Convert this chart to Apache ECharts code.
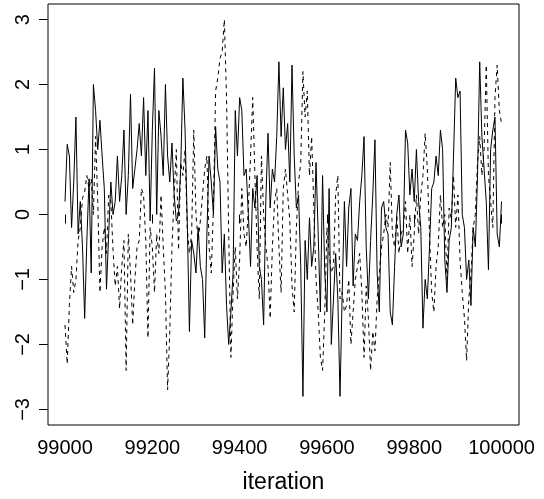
<!DOCTYPE html>
<html><head><meta charset="utf-8">
<script src="https://cdn.jsdelivr.net/npm/echarts@6/dist/echarts.min.js"></script>
<style>html,body{margin:0;padding:0;background:#fff}#c{width:544px;height:499px}</style>
</head><body><div id="c"></div>
<script>
const firstIteration = 99000;
const iterationStep = 5;
const chain1 = [
  0.2, 1.08, 0.9, -0.2, 0.5, 1.5, -0.3, 0.2, -0.5, -1.6, -0.4, 0.55, -0.9, 2.0, 1.6, 1.0, 1.45, 0.9, 0.4, -1.15, -0.3, 0.5, 0.0, 0.2, 0.9, 0.2,
  0.6, 1.3, 0.0, 0.6, 1.85, 0.4, 0.7, 1.0, 1.4, 0.9, 1.8, 0.6, 1.6, -0.1, 1.3, 2.25, 0.0, 1.6, 1.2, 0.6, 2.0, 0.9, 0.5, 1.1, 0.3, -0.1,
  0.0, 0.7, 2.1, 1.3, -0.1, -1.8, -0.4, -0.6, -0.9, -0.2, -0.8, -1.0, -1.9, -0.3, 0.9, 0.5, 0.0, 1.35, 0.7, 0.5, -0.9, -0.3, -1.4, -2.0, -1.5,
  -0.9, 1.6, 0.9, 1.8, 1.6, 0.6, 0.7, 0.0, -0.8, 0.4, 0.1, 0.6, -0.8, -1.0, -1.7, 0.2, 1.25, 0.1, 0.7, 0.5, 1.2, 2.35, 1.2, 1.95, 1.0, 1.4,
  0.5, 2.3, 0.9, 0.1, 0.3, -0.8, -2.8, -0.4, -1.0, -0.05, -0.8, -0.5, 0.8, -0.3, -1.5, 0.6, -0.9, -1.5, 0.4, -2.0, -1.3, -0.6, -1.3, -2.8, -1.2, 0.2,
  -0.8, 0.1, 0.4, -1.1, -0.3, -0.4, 0.2, 0.6, 1.2, -0.5, -1.3, -0.4, 0.3, 1.15, -0.9, -1.5, 0.1, 0.2, -0.2, -0.3, -1.5, -1.7, -0.8, 0.0, 0.3, -0.5,
  -0.3, 1.3, 1.1, 0.3, 0.7, 0.2, 1.0, 0.2, -0.2, -1.75, -1.0, -1.3, -0.5, 0.4, 0.5, 0.9, 0.6, 1.3, 1.0, -0.7, -1.2, -0.4, -0.2, 0.9, 2.1, 1.8,
  1.9, 0.0, -0.2, -1.0, -0.7, -1.4, -0.2, -0.5, 0.6, 2.35, 1.2, 0.7, 0.2, -0.85, 1.0, 1.3, 1.5, -0.3, -0.5, 0.2
];
const chain2 = [
  -1.7, -2.3, -1.4, -0.8, -1.2, -1.0, -0.4, -0.2, 0.25, 0.35, 0.6, 0.4, 0.55, 0.0, 1.2, 0.2, -1.2, -0.5, -0.2, -0.6, 0.3, 0.2, -0.55, -1.1, -0.8, -1.45,
  -0.8, -0.4, -2.4, -0.3, -0.9, -1.7, -1.0, -0.5, -0.4, 0.4, 0.3, -0.4, -1.9, -0.2, -0.5, -1.2, -0.3, -0.6, 0.3, -0.5, -1.2, -2.7, -1.8, -0.5, 0.3, 1.0,
  -0.55, 0.8, 0.6, 1.0, -0.2, -0.6, -0.3, 1.3, 0.0, -0.4, -0.1, 0.3, 0.7, 0.9, -0.5, -0.9, 0.1, 1.9, 2.1, 2.4, 2.5, 3.0, 1.8, -0.3, -2.2,
  -1.2, -0.5, -1.3, -0.7, 0.4, -0.3, -0.5, 0.1, 0.9, 1.8, 0.6, -0.5, -1.3, 0.9, 0.0, -0.5, -0.8, -1.6, -0.5, 0.2, 0.4, -0.5, -1.2, 0.4, 0.7, 0.3,
  -0.1, -1.1, -1.5, -0.2, 0.5, 0.8, 2.2, 1.5, 1.9, 0.6, 1.2, 0.1, -1.0, -1.5, -2.2, -2.4, -1.5, -0.2, -0.6, -0.9, -0.8, 0.3, 0.6, -1.3, -1.2, -1.5,
  -1.4, -1.0, -2.0, -1.5, -1.0, -0.8, -0.6, -1.2, -2.2, -1.1, -1.6, -2.4, -1.8, -2.1, -1.3, -0.9, -0.5, -0.3, 0.0, -0.2, 0.8, -0.3, -0.5, 0.0, -0.6, -0.3,
  -0.2, 0.2, -0.6, 0.0, -0.8, -0.3, 0.3, -0.3, 0.3, 0.6, 1.25, 0.7, -0.3, -1.2, -1.5, -0.8, -0.5, 0.3, -0.2, 0.0, -1.0, 0.1, -0.1, 0.6, -0.2, 0.3,
  -0.7, -1.2, -1.6, -2.25, -1.3, -0.9, -0.2, 0.0, 0.8, 1.2, 0.6, 1.0, 2.3, 0.6, 0.2, -0.2, 1.8, 2.3, 1.6, 1.4
];
const xTicks = [99000, 99200, 99400, 99600, 99800, 100000];
const yTicks = [-3, -2, -1, 0, 1, 2, 3];
const xTitle = 'iteration';

const iterations = chain1.map((_, i) => firstIteration + i * iterationStep);
const font = 'Liberation Sans, Arial, Helvetica, sans-serif';
const chart = echarts.init(document.getElementById('c'), null, {renderer: 'canvas'});
chart.setOption({
  animation: false,
  backgroundColor: '#fff',
  grid: {left: 48, top: 4, right: 25, bottom: 71, show: true, borderColor: '#000', borderWidth: 1, backgroundColor: 'transparent'},
  xAxis: {
    type: 'value', min: 98961, max: 100040,
    axisLine: {show: false}, splitLine: {show: false},
    axisTick: {show: true, inside: false, length: 9, customValues: xTicks, lineStyle: {color: '#000', width: 1}},
    axisLabel: {customValues: xTicks, fontFamily: font, fontSize: 20, color: '#000', margin: 13,
      formatter: v => String(v)},
    name: xTitle, nameLocation: 'middle', nameGap: 46,
    nameTextStyle: {fontFamily: font, fontSize: 23, color: '#000'}
  },
  yAxis: {
    type: 'value', min: -3.24, max: 3.24,
    axisLine: {show: false}, splitLine: {show: false},
    axisTick: {show: true, inside: false, length: 9, customValues: yTicks, lineStyle: {color: '#000', width: 1}},
    axisLabel: {customValues: yTicks, fontFamily: font, fontSize: 20, color: '#000', margin: 15, rotate: 90,
      formatter: v => (v < 0 ? '\u2212' + Math.abs(v) : String(v))}
  },
  series: [
    {type: 'line', data: iterations.map((x, i) => [x, chain1[i]]), showSymbol: false, symbol: 'none',
     lineStyle: {color: '#000', width: 1, type: 'solid'}},
    {type: 'line', data: iterations.map((x, i) => [x, chain2[i]]), showSymbol: false, symbol: 'none',
     lineStyle: {color: '#000', width: 1, type: [4, 4]}}
  ]
});
</script></body></html>
